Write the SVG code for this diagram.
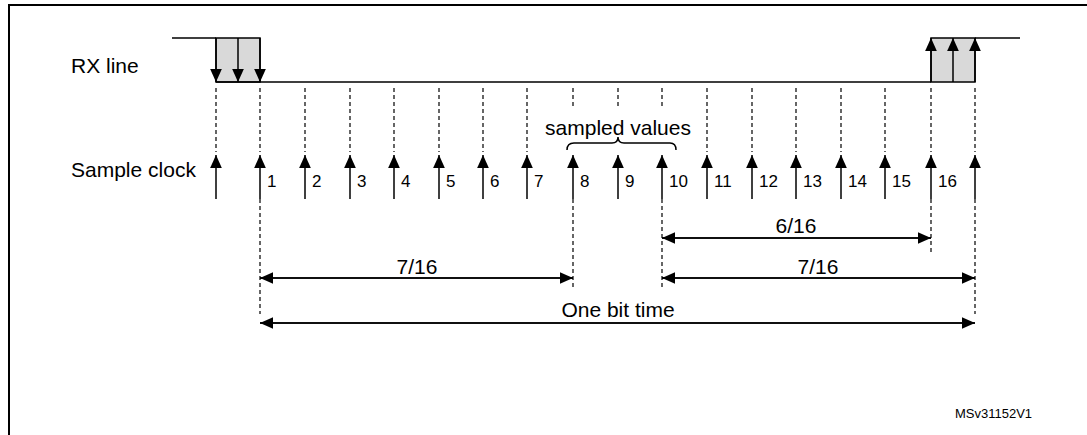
<svg xmlns="http://www.w3.org/2000/svg" width="1087" height="435" viewBox="0 0 1087 435">
<style>
text{font-family:"Liberation Sans",Arial,sans-serif;fill:#000}
.l{stroke:#000;stroke-width:1.5;fill:none}
.d{stroke:#000;stroke-width:1.2;stroke-dasharray:4,3;fill:none}
.n{font-size:17px}
.b{font-size:21px}
.g{fill:#d9d9d9;stroke:#000;stroke-width:1.5}
</style>
<defs>
<marker id="ah" viewBox="0 0 10 10" refX="10" refY="5" markerWidth="13" markerHeight="13" markerUnits="userSpaceOnUse" orient="auto"><path d="M0,0.5L10,5L0,9.5z" fill="#000"/></marker>
<marker id="aw" viewBox="0 0 10 10" refX="10" refY="5" markerWidth="13" markerHeight="13" markerUnits="userSpaceOnUse" orient="auto"><path d="M0,0.5L10,5L0,9.5z" fill="#000"/></marker>
</defs>
<rect width="1087" height="435" fill="#fff"/>
<path d="M9,435V5H1087" stroke="#000" stroke-width="2" fill="none"/>
<g id="labels">
<text class="b" x="71" y="73">RX line</text>
<text class="b" x="71" y="177">Sample clock</text>
<text class="b" x="618" y="135" text-anchor="middle">sampled values</text>
<text x="955" y="418" font-size="13">MSv31152V1</text>
</g>
<g id="rx">
<rect class="g" x="216" y="38" width="44" height="44"/>
<rect class="g" x="931" y="38" width="44" height="44"/>
<path class="l" d="M172,38H216M216,82H931M975,38H1020"/>
<line class="l" x1="216" y1="38" x2="216" y2="82" marker-end="url(#ah)"/>
<line class="l" x1="238" y1="38" x2="238" y2="82" marker-end="url(#ah)"/>
<line class="l" x1="260" y1="38" x2="260" y2="82" marker-end="url(#ah)"/>
<line class="l" x1="931" y1="82" x2="931" y2="38" marker-end="url(#ah)"/>
<line class="l" x1="953" y1="82" x2="953" y2="38" marker-end="url(#ah)"/>
<line class="l" x1="975" y1="82" x2="975" y2="38" marker-end="url(#ah)"/>
</g>
<g id="connectors">
<path class="d" d="M216,88V152M260,88V152M305,88V152M350,88V152M394,88V152M439,88V152M483,88V152M527,88V152M573,88V107M618,88V107M662,88V107M707,88V152M752,88V152M796,88V152M841,88V152M885,88V152M931,88V152M975,88V152"/>
<path class="d" d="M260,199V314M573,199V290M662,199V290M931,199V255M975,199V314"/>
<path class="l" stroke-width="1.2" d="M567,150Q567,143 574,143H612Q618,143 618,137Q618,143 624,143H670Q676,143 676,150"/>
<line class="l" x1="216" y1="199" x2="216" y2="155" marker-end="url(#ah)"/>
<line class="l" x1="260" y1="199" x2="260" y2="155" marker-end="url(#ah)"/>
<line class="l" x1="305" y1="199" x2="305" y2="155" marker-end="url(#ah)"/>
<line class="l" x1="350" y1="199" x2="350" y2="155" marker-end="url(#ah)"/>
<line class="l" x1="394" y1="199" x2="394" y2="155" marker-end="url(#ah)"/>
<line class="l" x1="439" y1="199" x2="439" y2="155" marker-end="url(#ah)"/>
<line class="l" x1="483" y1="199" x2="483" y2="155" marker-end="url(#ah)"/>
<line class="l" x1="527" y1="199" x2="527" y2="155" marker-end="url(#ah)"/>
<line class="l" x1="573" y1="199" x2="573" y2="155" marker-end="url(#ah)"/>
<line class="l" x1="618" y1="199" x2="618" y2="155" marker-end="url(#ah)"/>
<line class="l" x1="662" y1="199" x2="662" y2="155" marker-end="url(#ah)"/>
<line class="l" x1="707" y1="199" x2="707" y2="155" marker-end="url(#ah)"/>
<line class="l" x1="752" y1="199" x2="752" y2="155" marker-end="url(#ah)"/>
<line class="l" x1="796" y1="199" x2="796" y2="155" marker-end="url(#ah)"/>
<line class="l" x1="841" y1="199" x2="841" y2="155" marker-end="url(#ah)"/>
<line class="l" x1="885" y1="199" x2="885" y2="155" marker-end="url(#ah)"/>
<line class="l" x1="931" y1="199" x2="931" y2="155" marker-end="url(#ah)"/>
<line class="l" x1="975" y1="199" x2="975" y2="155" marker-end="url(#ah)"/>
<line class="l" stroke-width="1.2" x1="662" y1="238" x2="931" y2="238" marker-end="url(#aw)"/>
<line class="l" stroke-width="1.2" x1="931" y1="238" x2="662" y2="238" marker-end="url(#aw)"/>
<line class="l" stroke-width="1.2" x1="662" y1="278" x2="975" y2="278" marker-end="url(#aw)"/>
<line class="l" stroke-width="1.2" x1="975" y1="278" x2="662" y2="278" marker-end="url(#aw)"/>
<line class="l" stroke-width="1.2" x1="260" y1="278" x2="573" y2="278" marker-end="url(#aw)"/>
<line class="l" stroke-width="1.2" x1="573" y1="278" x2="260" y2="278" marker-end="url(#aw)"/>
<line class="l" stroke-width="1.2" x1="260" y1="323" x2="975" y2="323" marker-end="url(#aw)"/>
<line class="l" stroke-width="1.2" x1="975" y1="323" x2="260" y2="323" marker-end="url(#aw)"/>
</g>
<g id="dims">
<text class="b" x="796" y="233" text-anchor="middle">6/16</text>
<text class="b" x="417" y="274" text-anchor="middle">7/16</text>
<text class="b" x="818" y="274" text-anchor="middle">7/16</text>
<text class="b" x="618" y="317" text-anchor="middle">One bit time</text>
</g>
<g id="nums">
<text class="n" x="267" y="187">1</text><text class="n" x="312" y="187">2</text><text class="n" x="357" y="187">3</text><text class="n" x="401" y="187">4</text><text class="n" x="446" y="187">5</text><text class="n" x="490" y="187">6</text><text class="n" x="534" y="187">7</text><text class="n" x="580" y="187">8</text><text class="n" x="625" y="187">9</text><text class="n" x="669" y="187">10</text><text class="n" x="714" y="187">11</text><text class="n" x="759" y="187">12</text><text class="n" x="803" y="187">13</text><text class="n" x="848" y="187">14</text><text class="n" x="892" y="187">15</text><text class="n" x="938" y="187">16</text>
</g>
</svg>
